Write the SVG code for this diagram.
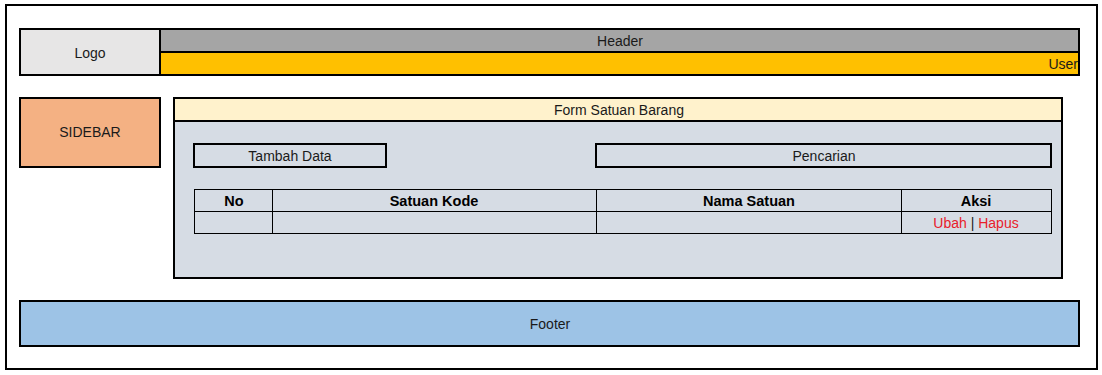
<svg xmlns="http://www.w3.org/2000/svg" width="1102" height="375" viewBox="0 0 1102 375">
  <style>
    text { font-family: "Liberation Sans", Arial, sans-serif; font-size: 14px; fill: #1a1a1a; }
    .c { text-anchor: middle; dominant-baseline: central; }
    .b { font-weight: bold; fill: #000; font-size: 14.5px; }
    .red { fill: #e8202a; }
    .thick { stroke: #000; stroke-width: 2; }
    .thin { stroke: #000; stroke-width: 1; fill: none; }
  </style>
  <rect width="1102" height="375" fill="#fff"/>
  <!-- page frame -->
  <g id="frame">
    <rect x="6" y="5" width="1091" height="364" fill="#fff" class="thick"/>
  </g>
  <g id="logo">
    <rect x="20" y="29" width="140" height="46" fill="#e7e6e6" class="thick"/>
    <text x="90" y="53" class="c">Logo</text>
  </g>
  <g id="header">
    <rect x="160" y="29" width="919" height="23" fill="#a5a5a5" class="thick"/>
    <text x="620" y="41" class="c">Header</text>
  </g>
  <g id="user">
    <rect x="160" y="52" width="919" height="23" fill="#ffc000" class="thick"/>
    <text x="1078" y="64" text-anchor="end" dominant-baseline="central">User</text>
  </g>
  <g id="sidebar">
    <rect x="20" y="98" width="140" height="69" fill="#f4b183" class="thick"/>
    <text x="90" y="132" class="c">SIDEBAR</text>
  </g>
  <g id="form">
    <rect x="174" y="98" width="888" height="180" fill="#d6dce4" class="thick"/>
    <rect x="174" y="98" width="888" height="23" fill="#fff2cc" class="thick"/>
    <text x="619" y="110" class="c">Form Satuan Barang</text>
  </g>
  <g id="tambah">
    <rect x="194" y="144" width="192" height="23" fill="#d6dce4" class="thick"/>
    <text x="290" y="156" class="c">Tambah Data</text>
  </g>
  <g id="pencarian">
    <rect x="596" y="144" width="455" height="23" fill="#d6dce4" class="thick"/>
    <text x="824" y="156" class="c">Pencarian</text>
  </g>
  <g id="table">
    <rect x="194.5" y="189.5" width="857" height="44" class="thin"/>
    <line x1="194.5" y1="211.5" x2="1051.5" y2="211.5" class="thin"/>
    <line x1="272.5" y1="189.5" x2="272.5" y2="233.5" class="thin"/>
    <line x1="596.5" y1="189.5" x2="596.5" y2="233.5" class="thin"/>
    <line x1="901.5" y1="189.5" x2="901.5" y2="233.5" class="thin"/>
    <text x="234" y="201" class="c b">No</text>
    <text x="434" y="201" class="c b">Satuan Kode</text>
    <text x="749" y="201" class="c b">Nama Satuan</text>
    <text x="976" y="201" class="c b">Aksi</text>
    <text x="976" y="223" class="c"><tspan class="red">Ubah</tspan> | <tspan class="red">Hapus</tspan></text>
  </g>
  <g id="footer">
    <rect x="20" y="301" width="1059" height="45" fill="#9dc3e6" class="thick"/>
    <text x="550" y="324" class="c">Footer</text>
  </g>
</svg>
